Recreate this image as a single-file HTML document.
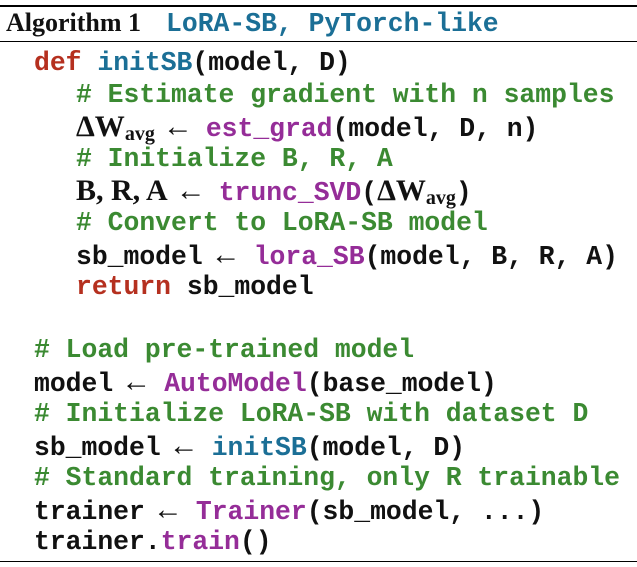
<!DOCTYPE html>
<html><head><meta charset="utf-8"><style>
body{margin:0;background:#fff;width:637px;height:567px;position:relative;overflow:hidden}
.r{position:absolute;left:0;width:637px;background:#000}
.l{position:absolute;height:32px;line-height:32px;white-space:pre;font-family:"Liberation Mono",monospace;font-weight:bold;font-size:26.4px;color:#111}
.m{font-family:"Liberation Serif",serif;font-weight:bold;font-size:30px}
.a{font-family:"Liberation Serif",serif;font-weight:normal;font-size:30px;margin:0 13px 0 8px}
sub{font-size:20px;vertical-align:-4px;font-family:"Liberation Serif",serif;font-weight:bold}
.k{color:#b5301f}.b{color:#1b6f96}.p{color:#952d98}.g{color:#3b8a32}
</style></head><body>
<div class="r" style="top:5px;height:2px"></div>
<div class="l" style="top:7px;left:6px;font-family:'Liberation Serif',serif;font-size:26px">Algorithm 1<span style="font-family:'Liberation Mono',monospace;font-size:26.4px;font-weight:bold;color:#1b6f96;margin-left:25px">LoRA-SB, PyTorch-like</span></div>
<div class="r" style="top:41px;height:1px"></div>
<div class="l" style="top:47px;left:34px"><span class="k">def</span> <span class="b">initSB</span>(model, D)</div>
<div class="l g" style="top:79px;left:76px"># Estimate gradient with n samples</div>
<div class="l" style="top:111px;left:76px"><span class="m">ΔW<sub>avg</sub></span><span class="a">←</span><span class="p">est_grad</span>(model, D, n)</div>
<div class="l g" style="top:143px;left:76px"># Initialize B, R, A</div>
<div class="l" style="top:175px;left:76px"><span class="m">B, R, A</span><span class="a">←</span><span class="p">trunc_SVD</span>(<span class="m">ΔW<sub>avg</sub></span>)</div>
<div class="l g" style="top:207px;left:76px"># Convert to LoRA-SB model</div>
<div class="l" style="top:239px;left:76px">sb_model<span class="a">←</span><span class="p">lora_SB</span>(model, B, R, A)</div>
<div class="l" style="top:271px;left:76px"><span class="k">return</span> sb_model</div>
<div class="l g" style="top:334px;left:34px"># Load pre-trained model</div>
<div class="l" style="top:366px;left:34px">model<span class="a">←</span><span class="p">AutoModel</span>(base_model)</div>
<div class="l g" style="top:398px;left:34px"># Initialize LoRA-SB with dataset D</div>
<div class="l" style="top:430px;left:34px">sb_model<span class="a">←</span><span class="b">initSB</span>(model, D)</div>
<div class="l g" style="top:462px;left:34px"># Standard training, only R trainable</div>
<div class="l" style="top:494px;left:34px">trainer<span class="a">←</span><span class="p">Trainer</span>(sb_model, ...)</div>
<div class="l" style="top:526px;left:34px">trainer.<span class="p">train</span>()</div>
<div class="r" style="top:561px;height:1px"></div>
</body></html>
